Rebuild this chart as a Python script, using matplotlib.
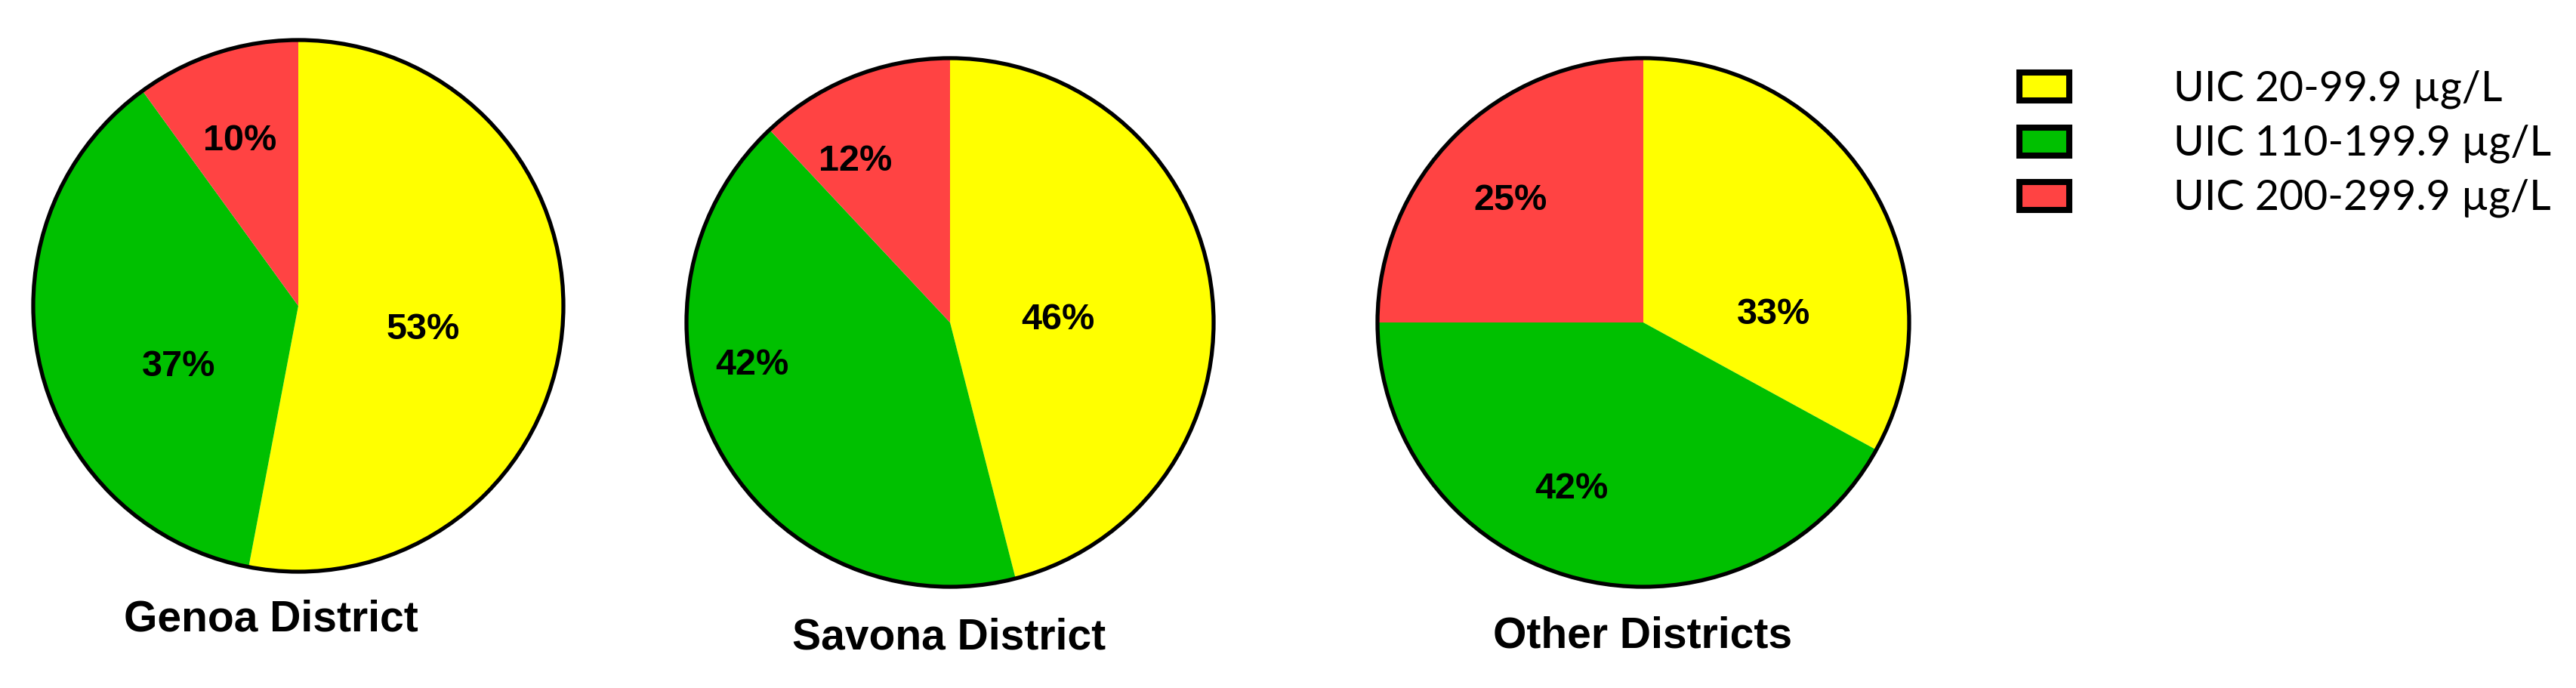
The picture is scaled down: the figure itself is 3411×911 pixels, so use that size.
import matplotlib
matplotlib.use("Agg")
import matplotlib.pyplot as plt
from matplotlib.patches import Ellipse, Rectangle

# data
districts = ["Genoa District", "Savona District", "Other Districts"]
uic_classes = ["UIC 20-99.9 \u00b5g/L", "UIC 110-199.9 \u00b5g/L", "UIC 200-299.9 \u00b5g/L"]
genoa = [53, 37, 10]
savona = [46, 42, 12]
other = [33, 42, 25]
shares = [genoa, savona, other]

colors = ["#FFFF00", "#00C000", "#FF4343"]

# layout (pixels in the 3412x911 canvas)
W, H = 3412, 911
pie_boxes = [  # cx, cy, rx, ry
    (395, 405, 351, 352),
    (1258, 427, 349, 350),
    (2176, 427, 352, 350),
]
label_pos = [  # where each percentage sits inside the pie (unit radius)
    [(0.47, -0.09), (-0.45, -0.23), (-0.22, 0.62)],
    [(0.41, 0.01), (-0.75, -0.16), (-0.36, 0.61)],
    [(0.49, 0.03), (-0.27, -0.63), (-0.50, 0.46)],
]
title_x = [359, 1257, 2175]
title_base = [835, 860, 858]

fig = plt.figure(figsize=(W / 100, H / 100), dpi=100)
fig.patch.set_facecolor("white")

for k, (name, vals) in enumerate(zip(districts, shares)):
    cx, cy, rx, ry = pie_boxes[k]
    ax = fig.add_axes([(cx - rx) / W, (H - cy - ry) / H, 2 * rx / W, 2 * ry / H])
    ax.pie(vals, colors=colors, startangle=90, counterclock=False,
           wedgeprops=dict(linewidth=0))
    ax.set_aspect("auto")
    ax.set_xlim(-1, 1)
    ax.set_ylim(-1, 1)
    ax.add_patch(Ellipse((0, 0), 2, 2, fill=False, edgecolor="black",
                         linewidth=3.8, clip_on=False))
    for v, (px, py) in zip(vals, label_pos[k]):
        ax.text(px, py, f"{v}%", ha="center", va="center", fontsize=35,
                fontweight="bold", family="Liberation Sans", color="black")
    ax.axis("off")
    fig.text(title_x[k] / W, (H - title_base[k]) / H, name, ha="center", va="baseline",
             fontsize=41, fontweight="bold", family="Liberation Sans")

# legend
box_y = [114.5, 187.5, 259.5]
for lab, col, yc in zip(uic_classes, colors, box_y):
    fig.add_artist(Rectangle(((2674) / W, (H - yc - 18) / H), 66 / W, 36 / H,
                             facecolor=col, edgecolor="black", linewidth=5.8,
                             transform=fig.transFigure))
    fig.text(2878 / W, (H - yc - 18.5) / H, lab, ha="left", va="baseline",
             fontsize=40, family="Lato", color="black")

fig.savefig("out.png", dpi=100, facecolor="white")
